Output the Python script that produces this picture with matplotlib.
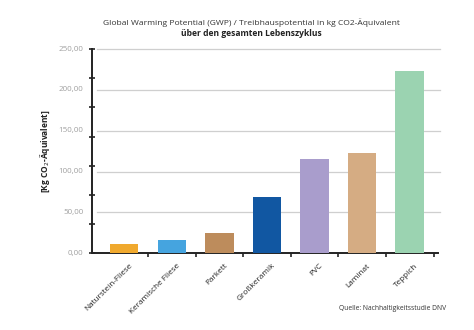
import matplotlib.pyplot as plt
import numpy as np

plt.rcParams['font.family'] = ['Open Sans', 'DejaVu Sans']

# GWP per floor covering, kg CO2-equivalent over the whole life cycle
materials = ['Naturstein-Fliese', 'Keramische Fliese', 'Parkett', 'Großkeramik',
             'PVC', 'Laminat', 'Teppich']
gwp = [11.0, 15.9, 24.5, 68.9, 115.0, 122.8, 223.5]
colors = ['#F0A92E', '#45A4DF', '#BD8C5C', '#1157A2', '#A99DCC', '#D5AC83', '#9BD3B1']
grid_vals = [0, 50, 100, 150, 200, 250]

fig = plt.figure(figsize=(4.74, 3.30), dpi=100)
ax = fig.add_axes([0.1935, 0.2324, 0.7312, 0.6191])

x = np.arange(len(materials))
ax.bar(x, gwp, width=0.6, color=colors, zorder=3)

ax.set_xlim(-0.683, 6.60)
ax.set_ylim(0, 250)

# horizontal gridlines with labels, axis tick marks spaced separately
for g in grid_vals[1:]:
    ax.axhline(g, color='#cfcfcf', lw=0.9, zorder=1, xmin=0.015, xmax=1.005, clip_on=False)
ax.set_yticks(np.linspace(0, 250, 8))
ax.set_yticklabels([])
ax.tick_params(axis='y', direction='inout', length=4, width=1.2, color='#222222')
for g in grid_vals:
    ax.text(-0.86, g, f'{g:.2f}'.replace('.', ','), ha='right', va='center',
            fontsize=5.8, color='#a0a0a0')

ax.set_xticks(np.arange(0.5, 6.6, 1.0))
ax.set_xticklabels([])
ax.tick_params(axis='x', direction='out', length=3, width=1.2, color='#222222')
for xi, name in zip(x, materials):
    ax.text(xi + 0.1, -11, name, rotation=45, ha='right', va='top',
            rotation_mode='anchor', fontsize=5.9, color='#222222')

for side in ['top', 'right']:
    ax.spines[side].set_visible(False)
for side in ['left', 'bottom']:
    ax.spines[side].set_linewidth(1.4)
    ax.spines[side].set_color('#222222')

ax.set_ylabel('[Kg CO$_2$-Äquivalent]', fontsize=6, fontweight='bold',
              color='#222222', labelpad=23)

fig.text(0.53, 0.932, 'Global Warming Potential (GWP) / Treibhauspotential in kg CO2-Äquivalent',
         ha='center', va='center', fontsize=6.1, color='#333333')
fig.text(0.53, 0.897, 'über den gesamten Lebenszyklus', ha='center', va='center',
         fontsize=6.1, fontweight='bold', color='#222222')
fig.text(0.942, 0.066, 'Quelle: Nachhaltigkeitsstudie DNV', ha='right', va='center',
         fontsize=4.9, color='#333333')

fig.savefig('out.png', dpi=100)
